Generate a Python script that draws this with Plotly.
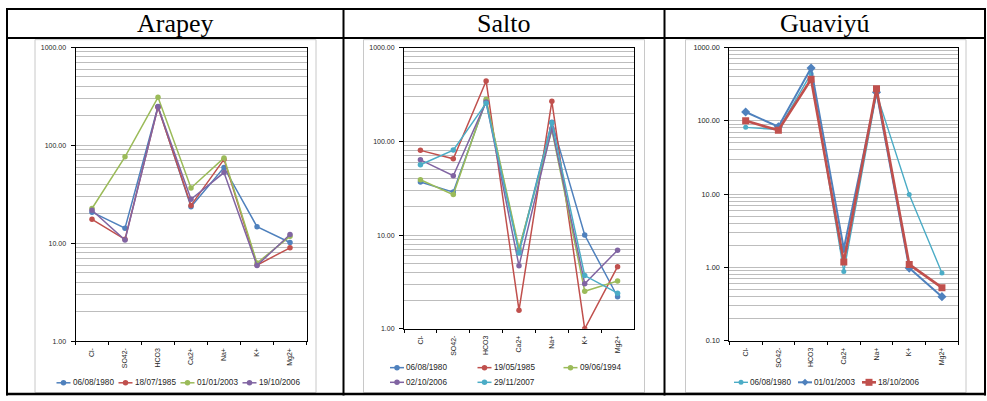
import plotly.graph_objects as go
import math

W, H = 987, 401

# ---------------- data ----------------
ions = ["Cl-", "SO42-", "HCO3", "Ca2+", "Na+", "K+", "Mg2+"]

arapey_dates = ["06/08/1980", "18/07/1985", "01/01/2003", "19/10/2006"]
arapey_1980 = [20.8, 14.3, 250, 23.6, 59.5, 14.8, 10.2]
arapey_1985 = [17.6, 11.0, 246, 24.4, 72.0, 6.0, 9.0]
arapey_2003 = [22.7, 76.5, 310, 36.8, 74.5, 6.3, 11.8]
arapey_2006 = [21.8, 10.8, 248, 28.2, 52.8, 5.95, 12.3]

salto_dates = ["06/08/1980", "19/05/1985", "09/06/1994", "02/10/2006", "29/11/2007"]
salto_1980 = [36.8, 28.7, 270, 6.8, 160, 10.0, 2.2]
salto_1985 = [80, 65, 439, 1.58, 267, 1.0, 4.6]
salto_1994 = [38.9, 27.0, 280, 7.25, 132, 2.52, 3.23]
salto_2006 = [63.4, 42.9, 263, 4.7, 137, 3.03, 6.9]
salto_2007 = [56.2, 80.6, 255, 6.45, 158, 3.7, 2.4]

guav_dates = ["06/08/1980", "01/01/2003", "18/10/2006"]
guav_1980 = [81.5, 76, 440, 0.88, 237, 9.9, 0.84]
guav_2003 = [132, 83, 524, 1.8, 245, 0.98, 0.40]
guav_2006 = [100, 74.3, 369, 1.19, 274, 1.10, 0.53]

titles = ["Arapey", "Salto", "Guaviyú"]

# ---------------- styles ----------------
BLUE, RED, GREEN, PURPLE, CYAN = "#4F81BD", "#C0504D", "#9BBB59", "#8064A2", "#4BACC6"
GRID = "#bdbdbd"
LBL = "#262626"
FONT = "Liberation Sans"


def px_x(x):
    return x / W


def px_y(y):
    return 1 - y / H


panels = [
    dict(xd=(75.5, 306.5), yd=(44.5, 345.0), yr=(1, 1000),
         series=[(arapey_dates[0], arapey_1980, BLUE, "circle", 5.5, 1.5),
                 (arapey_dates[1], arapey_1985, RED, "circle", 5.5, 1.5),
                 (arapey_dates[2], arapey_2003, GREEN, "circle", 5.5, 1.5),
                 (arapey_dates[3], arapey_2006, PURPLE, "circle", 5.5, 1.5)],
         tfs=7),
    dict(xd=(404.0, 634.0), yd=(44.5, 332.3), yr=(1, 1000),
         series=[(salto_dates[0], salto_1980, BLUE, "circle", 5.5, 1.5),
                 (salto_dates[1], salto_1985, RED, "circle", 5.5, 1.5),
                 (salto_dates[2], salto_1994, GREEN, "circle", 5.5, 1.5),
                 (salto_dates[3], salto_2006, PURPLE, "circle", 5.5, 1.5),
                 (salto_dates[4], salto_2007, CYAN, "circle", 5.5, 1.5)],
         tfs=7),
    dict(xd=(729.3, 958.3), yd=(44.5, 344.5), yr=(0.1, 1000),
         series=[(guav_dates[0], guav_1980, CYAN, "circle", 5, 1.4),
                 (guav_dates[1], guav_2003, BLUE, "diamond", 7, 2.0),
                 (guav_dates[2], guav_2006, RED, "square", 7, 2.6)],
         tfs=7.3),
]

fig = go.Figure()
layout = dict(width=W, height=H, margin=dict(l=0, r=0, t=0, b=0),
              paper_bgcolor="white", plot_bgcolor="white", showlegend=False,
              font=dict(family=FONT))

for i, p in enumerate(panels):
    k = "" if i == 0 else str(i + 1)
    xa, ya = "x" + k, "y" + k
    for name, vals, col, sym, ms, lw in p["series"]:
        fig.add_trace(go.Scatter(x=ions, y=vals, name=name, mode="lines+markers",
                                 line=dict(color=col, width=lw),
                                 marker=dict(color=col, size=ms, symbol=sym),
                                 xaxis=xa, yaxis=ya, showlegend=False))
    lo, hi = p["yr"]
    d0, d1 = int(round(math.log10(lo))), int(round(math.log10(hi)))
    major = [10 ** e for e in range(d0, d1 + 1)]
    minor = [m * 10 ** e for e in range(d0, d1) for m in range(2, 10)]
    layout["xaxis" + k] = dict(
        domain=[px_x(p["xd"][0]), px_x(p["xd"][1])], anchor=ya,
        type="category", categoryorder="array", categoryarray=ions,
        range=[-0.5, len(ions) - 0.5], showgrid=False, zeroline=False,
        showline=True, mirror=True, linecolor="black", linewidth=1,
        ticks="outside", tickson="boundaries", ticklen=3, tickcolor="black",
        tickangle=-90, ticklabelstandoff=3,
        tickfont=dict(size=7, color=LBL, family=FONT))
    layout["yaxis" + k] = dict(
        domain=[px_y(p["yd"][1]), px_y(p["yd"][0])], anchor=xa,
        type="log", range=[d0, d1],
        tickmode="array", tickvals=major,
        ticktext=[f"{v:.2f}" for v in major],
        showgrid=True, gridcolor=GRID, gridwidth=1, zeroline=False,
        minor=dict(tickmode="array", tickvals=minor, showgrid=True,
                   gridcolor=GRID, gridwidth=1, ticks=""),
        showline=True, mirror=True, linecolor="black", linewidth=1,
        ticks="outside", ticklen=4, tickcolor="black", ticklabelstandoff=3,
        tickfont=dict(size=p["tfs"], color=LBL, family=FONT))

shapes = []
annotations = []

# chart area boxes (light grey)
for x0, x1 in [(35, 316), (363.5, 644.5), (685.5, 966)]:
    shapes.append(dict(type="rect", xref="paper", yref="paper", layer="below",
                       x0=px_x(x0), x1=px_x(x1), y0=px_y(397.5), y1=px_y(36.5),
                       line=dict(color="#c8c8c8", width=1), fillcolor="white"))


def hline(y, x0, x1, w=2):
    shapes.append(dict(type="line", xref="paper", yref="paper",
                       x0=px_x(x0), x1=px_x(x1), y0=px_y(y), y1=px_y(y),
                       line=dict(color="black", width=w)))


def vline(x, y0, y1, w=2):
    shapes.append(dict(type="line", xref="paper", yref="paper",
                       x0=px_x(x), x1=px_x(x), y0=px_y(y0), y1=px_y(y1),
                       line=dict(color="black", width=w)))


# table lines
hline(5, 6, 986)
hline(34.7, 6, 986)
hline(399, 6, 986, w=2.5)
for xv in [7, 343.5, 664.5, 985]:
    vline(xv, 4, 400.5)

# titles
for t, cx in zip(titles, [175, 504, 825]):
    annotations.append(dict(text=t, x=px_x(cx), y=px_y(19.5), xref="paper", yref="paper",
                            xanchor="center", yanchor="middle", showarrow=False,
                            font=dict(family="Liberation Serif", size=26, color="black")))


# legends (manual, Excel style)
def legend_item(x, y, name, col, sym, ms, lw):
    sw = 14
    shapes.append(dict(type="line", xref="paper", yref="paper",
                       x0=px_x(x), x1=px_x(x + sw), y0=px_y(y), y1=px_y(y),
                       line=dict(color=col, width=lw)))
    cx, cy = px_x(x + sw / 2), px_y(y)
    r = ms / 2
    base = dict(xref="paper", yref="paper", xsizemode="pixel", ysizemode="pixel",
                xanchor=cx, yanchor=cy, fillcolor=col, line=dict(width=0))
    if sym == "circle":
        shapes.append(dict(type="circle", x0=-r, x1=r, y0=-r, y1=r, **base))
    elif sym == "square":
        shapes.append(dict(type="rect", x0=-r, x1=r, y0=-r, y1=r, **base))
    else:
        shapes.append(dict(type="path",
                           path=f"M 0 {-r} L {r} 0 L 0 {r} L {-r} 0 Z", **base))
    annotations.append(dict(text=name, x=px_x(x + sw + 1), y=px_y(y), xref="paper", yref="paper",
                            xanchor="left", yanchor="middle", showarrow=False, borderpad=0,
                            font=dict(family=FONT, size=8.2, color="#262626")))


leg_pos = [
    [(56.5, 387.5), (118.5, 387.5), (180.5, 387.5), (242.5, 387.5)],
    [(390, 372), (477.5, 372), (563.5, 372), (390, 387), (477.5, 387)],
    [(734, 387), (798, 387), (862, 387)],
]
for p, poss in zip(panels, leg_pos):
    for (name, vals, col, sym, ms, lw), (lx, ly) in zip(p["series"], poss):
        legend_item(lx, ly, name, col, sym, ms, lw)

layout["shapes"] = shapes
layout["annotations"] = annotations
fig.update_layout(**layout)
fig.write_html("out.html", config={"displayModeBar": False},
               post_script="document.body.style.margin='0';document.body.style.padding='0';"
                           "document.body.style.overflow='hidden';")
